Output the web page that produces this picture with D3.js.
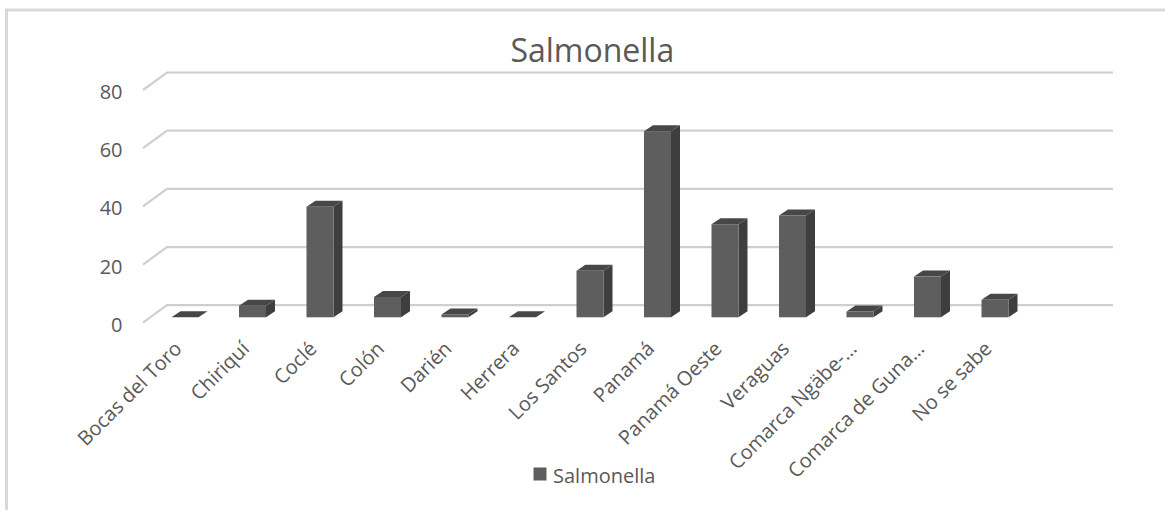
<!DOCTYPE html>
<html>
<head>
<meta charset="utf-8">
<script src="https://cdn.jsdelivr.net/npm/d3@7"></script>
<style>
  html, body { margin: 0; padding: 0; background: #ffffff; }
  svg { display: block; }
  text { font-family: "Open Sans", "DejaVu Sans", sans-serif; fill: #595959; }
</style>
</head>
<body>
<svg id="chart" width="1165" height="510"></svg>
<script>
// Salmonella cases by region
const categories = [
  "Bocas del Toro", "Chiriquí", "Coclé", "Colón", "Darién", "Herrera",
  "Los Santos", "Panamá", "Panamá Oeste", "Veraguas",
  "Comarca Ngäbe-…", "Comarca de Guna…", "No se sabe"
];
const salmonella = [0, 4, 38, 7, 1, 0, 16, 64, 32, 35, 2, 14, 6];
const yTicks = [0, 20, 40, 60, 80];
const seriesName = "Salmonella";
const chartTitle = "Salmonella";

const svg = d3.select("#chart");

// outer chart frame (top and left edges)
svg.append("path")
  .attr("d", "M6.5,510 L6.5,10 L1165,10")
  .attr("fill", "none")
  .attr("stroke", "#d9d9d9")
  .attr("stroke-width", 3);

// 3-D box geometry: front plane, bar plane, back wall
const valueSpan = 232.7;
const depthDX = 24, depthDY = -17.5;          // front edge -> back wall
const frontFloor = 322.7, frontLeft = 143;
const barFloor = 317.3;
const barDX = 9, barDY = -6;                  // thickness of each column
const wallRight = 1113;

const yFront = d3.scaleLinear().domain([0, 80]).range([frontFloor, frontFloor - valueSpan]);
const yBack = d3.scaleLinear().domain([0, 80]).range([frontFloor + depthDY, frontFloor + depthDY - valueSpan]);
const yBar = d3.scaleLinear().domain([0, 80]).range([barFloor, barFloor - valueSpan]);

const x = d3.scaleBand()
  .domain(categories)
  .range([151.25, 1028.75])
  .paddingInner(0.6)
  .paddingOuter(0.3);
const bw = x.bandwidth();

// gridlines on the back wall plus the slanted edge on the side
const grid = svg.append("g").attr("class", "grid");
grid.selectAll("path.wall")
  .data(yTicks)
  .join("path")
  .attr("class", "wall")
  .attr("d", d => `M${frontLeft},${yFront(d)} L${frontLeft + depthDX},${yBack(d)} L${wallRight},${yBack(d)}`)
  .attr("fill", "none")
  .attr("stroke", "#cfcfcf")
  .attr("stroke-width", 2.2);

// value axis labels
svg.append("g")
  .selectAll("text")
  .data(yTicks)
  .join("text")
  .attr("x", 122.5)
  .attr("y", d => yFront(d) + 2)
  .attr("dy", "0.35em")
  .attr("text-anchor", "end")
  .attr("font-size", 20)
  .text(d => d);

// columns drawn as front, side and top faces
const bars = svg.append("g").attr("class", "bars")
  .selectAll("g")
  .data(categories.map((c, i) => ({ c, v: salmonella[i] })))
  .join("g");

bars.append("path")
  .attr("d", d => {
    const x0 = x(d.c), x1 = x0 + bw, yt = yBar(d.v), yb = yBar(0);
    return `M${x1},${yt} L${x1 + barDX},${yt + barDY} L${x1 + barDX},${yb + barDY} L${x1},${yb} Z`;
  })
  .attr("fill", "#3e3e3e");

bars.append("path")
  .attr("d", d => {
    const x0 = x(d.c), x1 = x0 + bw, yt = yBar(d.v);
    return `M${x0},${yt} L${x0 + barDX},${yt + barDY} L${x1 + barDX},${yt + barDY} L${x1},${yt} Z`;
  })
  .attr("fill", "#474747");

bars.append("rect")
  .attr("x", d => x(d.c))
  .attr("y", d => yBar(d.v))
  .attr("width", bw)
  .attr("height", d => yBar(0) - yBar(d.v))
  .attr("fill", "#5e5e5e");

// category labels, rotated
svg.append("g")
  .selectAll("text")
  .data(categories)
  .join("text")
  .attr("transform", d => `translate(${x(d) + bw / 2 - 2},350) rotate(-45)`)
  .attr("text-anchor", "end")
  .attr("font-size", 20)
  .text(d => d);

// title
svg.append("text")
  .attr("x", 592.3)
  .attr("y", 62.3)
  .attr("text-anchor", "middle")
  .attr("font-size", 32)
  .text(chartTitle);

// legend
const legend = svg.append("g");
legend.append("rect")
  .attr("x", 533.5).attr("y", 467.5)
  .attr("width", 13).attr("height", 13)
  .attr("fill", "#5e5e5e");
legend.append("text")
  .attr("x", 553)
  .attr("y", 483.3)
  .attr("font-size", 20)
  .text(seriesName);
</script>
</body>
</html>
